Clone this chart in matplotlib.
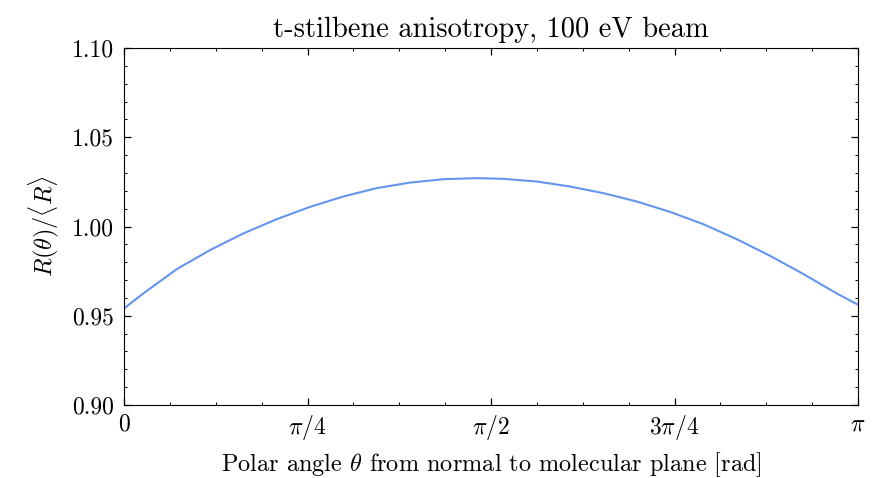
import numpy as np
import matplotlib
matplotlib.use('Agg')
import matplotlib.pyplot as plt
from matplotlib.ticker import MultipleLocator

plt.rcParams['font.family'] = 'serif'
plt.rcParams['font.serif'] = ['cmr10']
plt.rcParams['mathtext.fontset'] = 'cm'
plt.rcParams['axes.unicode_minus'] = False
plt.rcParams['axes.formatter.use_mathtext'] = True

# values
theta = [0.0, 0.0826, 0.2256, 0.3681, 0.5106, 0.6536, 0.7961, 0.9386,
         1.0816, 1.2241, 1.3666, 1.5096, 1.6234, 1.7664, 1.9089, 2.0514,
         2.1944, 2.3369, 2.4795, 2.6224, 2.7649, 2.9074, 3.0504, np.pi]
ratio = [0.9541, 0.9625, 0.9761, 0.9868, 0.9961, 1.0041, 1.0110, 1.0168,
         1.0215, 1.0246, 1.0265, 1.0271, 1.0267, 1.0252, 1.0224, 1.0187,
         1.0140, 1.0082, 1.0013, 0.9929, 0.9836, 0.9734, 0.9625, 0.9562]

xticks = [0, np.pi / 4, np.pi / 2, 3 * np.pi / 4, np.pi]
xlabels = ['$0$', r'$\pi/4$', r'$\pi/2$', r'$3\pi/4$', r'$\pi$']

fig = plt.figure(figsize=(8.84, 4.78), dpi=100)
ax = fig.add_axes([0.1403, 0.1527, 0.8303, 0.7469])

ax.plot(theta, ratio, color='#6495ED', lw=1.5)

ax.set_xlim(0, np.pi)
ax.set_ylim(0.90, 1.10)
ax.set_xticks(xticks)
ax.set_xticklabels(xlabels)
ax.xaxis.set_minor_locator(MultipleLocator(np.pi / 16))
ax.set_yticks([0.90, 0.95, 1.00, 1.05, 1.10])
ax.set_yticklabels(['0.90', '0.95', '1.00', '1.05', '1.10'])
ax.yaxis.set_minor_locator(MultipleLocator(0.01))

ax.tick_params(which='both', direction='in', top=True, right=True, labelsize=17)
ax.tick_params(which='major', length=5, width=0.9)
ax.tick_params(which='minor', length=2.5, width=0.7)
ax.tick_params(axis='x', pad=6)
ax.tick_params(axis='y', pad=7)

ax.set_xlabel(r'Polar angle $\theta$ from normal to molecular plane [rad]',
              fontsize=17.5, labelpad=6)
ax.set_ylabel(r'$R(\theta)/\langle R\rangle$', fontsize=17.5, labelpad=8)
ax.set_title('t-stilbene anisotropy, 100 eV beam', fontsize=20.5, pad=8)

fig.savefig('out.png', dpi=100)
